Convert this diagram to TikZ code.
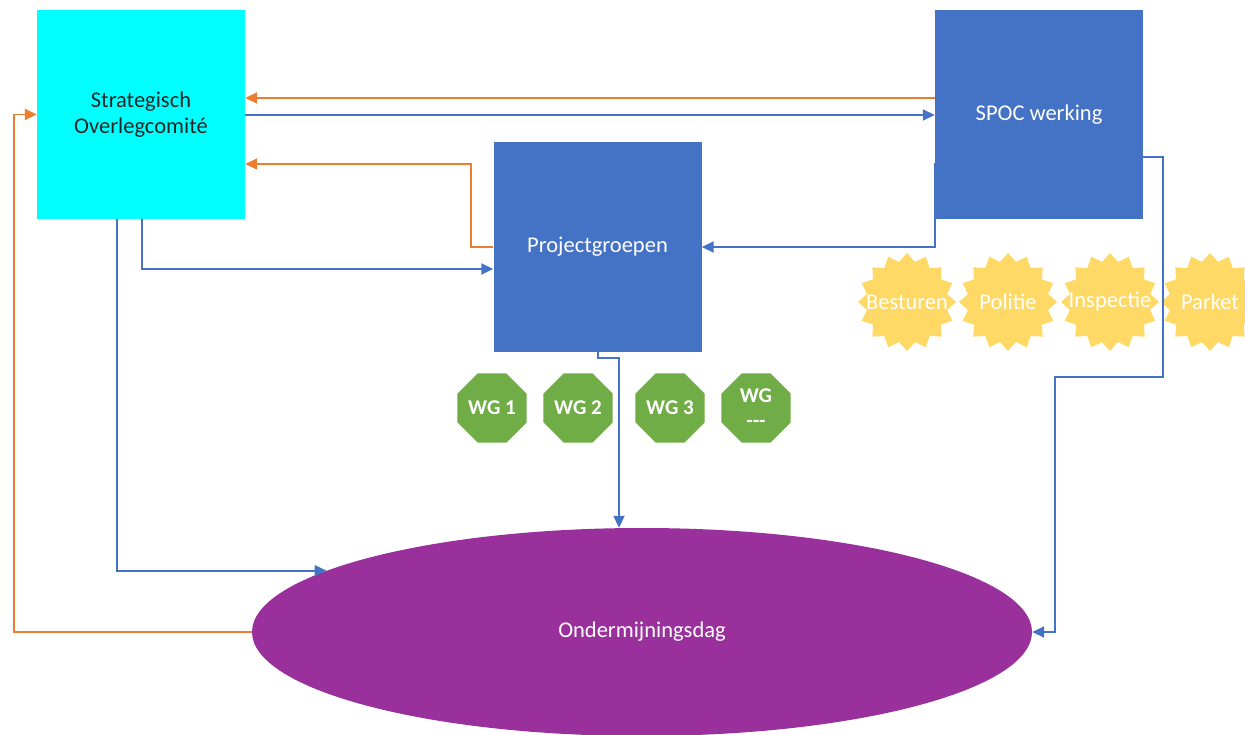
\documentclass[tikz,border=0pt]{standalone}
\usepackage{fontspec}
\setmainfont{Carlito}
\usetikzlibrary{shapes.geometric,arrows.meta}
\definecolor{bl}{RGB}{68,114,196}
\definecolor{orng}{RGB}{237,125,49}
\definecolor{cyn}{RGB}{0,255,255}
\definecolor{purp}{RGB}{153,48,155}
\definecolor{grn}{RGB}{112,173,71}
\definecolor{gold}{RGB}{255,217,102}
\tikzset{
  txt/.style={font=\fontsize{22.5}{26}\selectfont},
  box/.style={txt, rectangle, minimum width=208, minimum height=209, inner sep=0, align=center},
  wg/.style={regular polygon, regular polygon sides=8, minimum size=75, inner sep=0, fill=grn, text=white, align=center, font=\bfseries\fontsize{21}{25}\selectfont},
  starbox/.style={star, star points=16, star point ratio=1.2, minimum size=98, inner sep=0, fill=gold},
  startext/.style={txt, text=white, inner sep=0},
  conn/.style={line width=1.8pt, -{Triangle[length=12pt,width=11pt]}},
  barr/.style={conn, bl},
  oarr/.style={conn, orng},
}
\begin{document}
\begin{tikzpicture}[x=1pt,y=-1pt]
\useasboundingbox (0,0) rectangle (1245,735);
\node[box, fill=cyn, text=black!85] (soc) at (141,114.5) {Strategisch\\Overlegcomité};
\node[box, fill=bl, text=white] (pg) at (597.5,247) {Projectgroepen};
\node[box, fill=bl, text=white] (spoc) at (1039,114.5) {SPOC werking};
\node[txt, ellipse, fill=purp, text=white, minimum width=780, minimum height=208, inner sep=0] (od) at (642,632) {Ondermijningsdag};

\node[wg] (wg1) at (492,408) {WG 1};
\node[wg] (wg2) at (578,408) {WG 2};
\node[wg] (wg3) at (670,408) {WG 3};
\node[wg] (wg4) at (756,408) {WG\\{-}{-}{-}};

\node[starbox] (s1) at (907,302) {};
\node[starbox] (s2) at (1008,302) {};
\node[starbox] (s3) at (1110,302) {};
\node[starbox] (s4) at (1210,302) {};
\node[startext] (t1) at (s1) {Besturen};
\node[startext] (t2) at (s2) {Politie};
\node[startext] (t3) at (s3) {Inspectie};
\node[startext] (t4) at (s4) {Parket};

\draw[oarr] (spoc.west |- 0,98) -- (soc.east |- 0,98);
\draw[barr] (soc.east |- 0,115) -- (spoc.west |- 0,115);
\draw[oarr] (pg.west) -| (471,164) -- (soc.east |- 0,164);
\draw[barr] (soc.south -| 142,0) |- (pg.west |- 0,269);
\draw[barr] (soc.south -| 117,0) |- (od.169.6);
\draw[oarr] (od.west) -| (14,114.5) -- (soc.west);
\draw[barr] (spoc.west |- 0,163) |- (pg.east);
\draw[barr] (spoc.east |- 0,157) -| (1163,377) -| (1055,632) -- (od.east);
\draw[barr] (pg.south -| 598,0) -- (598,358) -| (od.north -| 619,0);
\end{tikzpicture}
\end{document}
